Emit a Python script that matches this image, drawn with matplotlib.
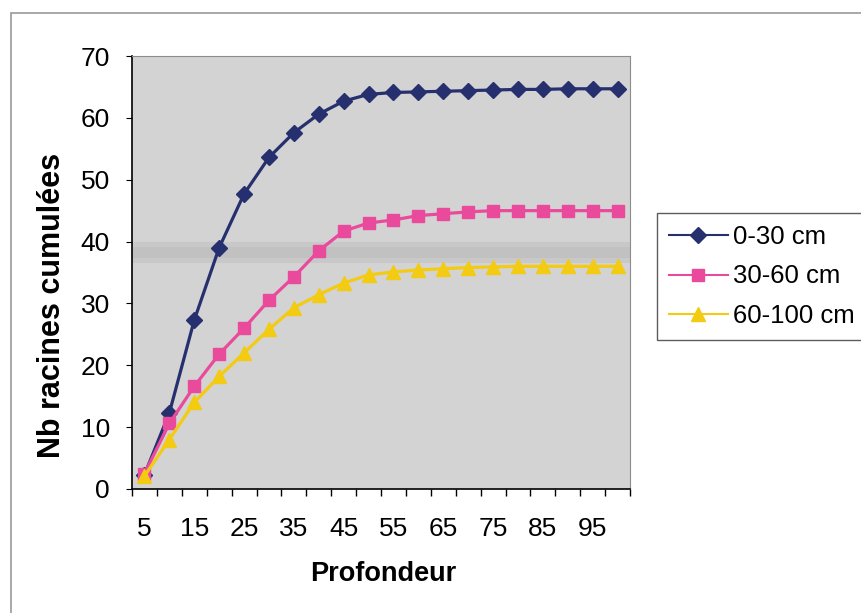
import numpy as np
import matplotlib
matplotlib.use('Agg')
from matplotlib import pyplot as plt
from matplotlib.lines import Line2D

plt.rcParams['font.family'] = ['Liberation Sans', 'DejaVu Sans']

# depth classes (x categories)
profondeur = [5, 10, 15, 20, 25, 30, 35, 40, 45, 50,
              55, 60, 65, 70, 75, 80, 85, 90, 95, 100]

# cumulated root counts
cum_0_30 = [2.3, 12.3, 27.3, 39.0, 47.7, 53.6, 57.6, 60.6, 62.7, 63.8,
            64.1, 64.2, 64.3, 64.4, 64.5, 64.6, 64.6, 64.7, 64.7, 64.7]
cum_30_60 = [2.5, 10.6, 16.6, 21.8, 26.0, 30.5, 34.3, 38.5, 41.7, 43.0,
             43.5, 44.2, 44.5, 44.8, 45.0, 45.0, 45.0, 45.0, 45.0, 45.0]
cum_60_100 = [2.1, 8.0, 14.0, 18.2, 22.0, 25.8, 29.3, 31.4, 33.3, 34.6,
              35.1, 35.4, 35.6, 35.8, 35.9, 36.0, 36.0, 36.0, 36.0, 36.0]

labels = ['0-30 cm', '30-60 cm', '60-100 cm']
xtick_labels = [5, 15, 25, 35, 45, 55, 65, 75, 85, 95]

colors = ['#27306e', '#ea4a9c', '#f3cb12']
markers = ['D', 's', '^']
msizes = [8.5, 8, 9.5]

W, H = 861, 613
fig = plt.figure(figsize=(W / 100, H / 100), dpi=100)
fig.patch.set_facecolor('white')

# outer chart frame (Excel chart area)
frame = plt.Rectangle((11 / W, -0.05), 1.2, 1 - 13 / H + 0.05,
                      transform=fig.transFigure, fill=False,
                      edgecolor='#9a9a9a', linewidth=1.2)
fig.add_artist(frame)

ax = fig.add_axes([132 / W, 1 - 489 / H, 498 / W, 433 / H])
ax.set_facecolor('#d3d3d3')
# faint scan band across the plot area
ax.axhspan(36.6, 40.0, color='#bcbcbc', alpha=0.45, linewidth=0, zorder=0)
ax.axhspan(37.4, 39.2, color='#b4b4b4', alpha=0.35, linewidth=0, zorder=0)

for ys, c, m, ms, lab in zip([cum_0_30, cum_30_60, cum_60_100],
                             colors, markers, msizes, labels):
    ax.plot(profondeur, ys, color=c, marker=m, markersize=ms,
            linewidth=2.3, label=lab)

ax.set_xlim(2.5, 102.5)
ax.set_ylim(0, 70)
ax.set_yticks(range(0, 71, 10))
ax.set_xticks(xtick_labels)
ax.set_xticks(np.arange(2.5, 103, 5), minor=True)
ax.tick_params(axis='x', which='major', length=0, pad=20, labelsize=19)
ax.tick_params(axis='x', which='minor', length=5, direction='out', width=1)
ax.tick_params(axis='y', length=4, direction='out', labelsize=19, pad=12)

for side in ['top', 'right']:
    ax.spines[side].set_color('#8c8c8c')
for side in ['left', 'bottom']:
    ax.spines[side].set_color('black')
    ax.spines[side].set_linewidth(1.2)

fig.text(383 / W, 1 - 574 / H, 'Profondeur', fontsize=19.5,
         fontweight='bold', ha='center', va='center')
fig.text(52 / W, 1 - 305 / H, 'Nb racines cumulées', fontsize=22,
         fontweight='bold', ha='center', va='center', rotation=90)

handles = [Line2D([], [], color=c, marker=m, markersize=ms, linewidth=1.5)
           for c, m, ms in zip(colors, markers, msizes)]
leg = fig.legend(handles, labels, loc='upper left',
                 bbox_to_anchor=(657 / W, 1 - 213 / H), borderaxespad=0,
                 fontsize=18.5, frameon=True, fancybox=False,
                 edgecolor='#333333', handlelength=2.3, handletextpad=0.2,
                 borderpad=0.45, labelspacing=0.62)
leg.get_frame().set_linewidth(1.0)

fig.savefig('out.png', dpi=100)
